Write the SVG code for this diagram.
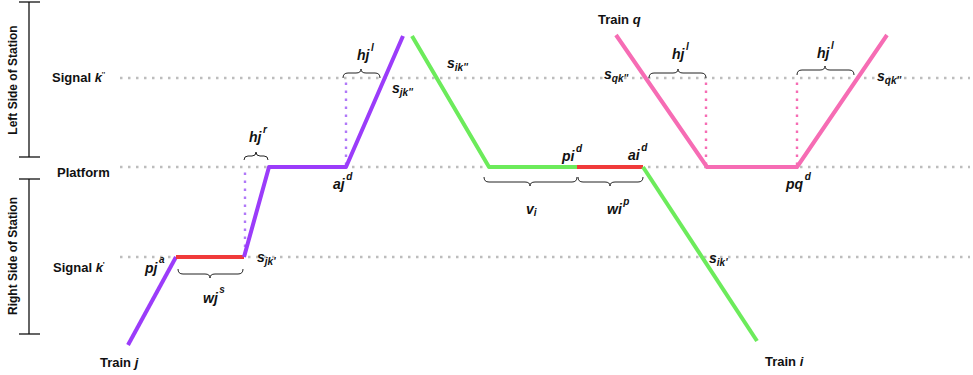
<svg xmlns="http://www.w3.org/2000/svg" width="973" height="375" viewBox="0 0 973 375">
<style>
text{font-family:"Liberation Sans",Arial,sans-serif;font-weight:bold;fill:#111}
.lb{font-size:13px}
.rl{font-size:12px}
.m{font-size:14px;font-style:italic}
.s{font-size:10px;font-style:italic}
.grid{stroke:#bdbdbd;stroke-width:2.5;stroke-dasharray:2.5 5.5;fill:none}
.tr{fill:none;stroke-width:4;stroke-linejoin:round}
.pu{stroke:#9b3cfa}
.gr{stroke:#6ceb5b}
.pk{stroke:#f66cb4}
.rd{stroke:#f03a3a}
.dv{stroke-width:2.4;stroke-dasharray:2.5 5.5;fill:none}
.br{fill:none;stroke:#222;stroke-width:1}
.ax{stroke:#111;stroke-width:1.3}
</style>
<rect width="973" height="375" fill="#fff"/>
<g id="gridlines">
<line class="grid" x1="120" y1="78" x2="970" y2="78"/>
<line class="grid" x1="120" y1="167" x2="970" y2="167"/>
<line class="grid" x1="120" y1="257" x2="970" y2="257"/>
</g>
<g id="axis">
<line class="ax" x1="29" y1="2" x2="29" y2="157"/>
<line class="ax" x1="19" y1="2" x2="40" y2="2"/>
<line class="ax" x1="19" y1="157" x2="40" y2="157"/>
<line class="ax" x1="29" y1="179" x2="29" y2="334"/>
<line class="ax" x1="19" y1="179" x2="40" y2="179"/>
<line class="ax" x1="19" y1="334" x2="40" y2="334"/>
<text class="rl" transform="translate(17 80) rotate(-90)" text-anchor="middle">Left Side of Station</text>
<text class="rl" transform="translate(17 256) rotate(-90)" text-anchor="middle">Right Side of Station</text>
<text class="lb" x="52" y="82">Signal <tspan font-style="italic">k</tspan><tspan font-size="7" dy="-5">''</tspan></text>
<text class="lb" x="57" y="177">Platform</text>
<text class="lb" x="53" y="272">Signal <tspan font-style="italic">k</tspan><tspan font-size="8" dy="-5">'</tspan></text>
</g>
<g id="connectors">
<line class="dv" stroke="#b078f8" x1="245" y1="255" x2="245" y2="168"/>
<line class="dv" stroke="#b078f8" x1="346" y1="165" x2="346" y2="79"/>
<line class="dv pk" x1="706" y1="165" x2="706" y2="79"/>
<line class="dv pk" x1="797" y1="165" x2="797" y2="79"/>
</g>
<g id="train-j">
<polyline class="tr pu" points="128,345 176,257"/>
<line class="tr rd" x1="176" y1="257" x2="244" y2="257"/>
<polyline class="tr pu" points="244,257 269,167 346,167 403,36"/>
<text class="lb" x="100" y="367">Train <tspan font-style="italic">j</tspan></text>
<text class="m" x="145" y="273">p<tspan>j</tspan><tspan class="s" dx="1.5" dy="-10">a</tspan></text>
<text class="m" x="203" y="303">w<tspan>j</tspan><tspan class="s" dx="1.5" dy="-10">s</tspan></text>
<text class="m" x="257" y="262">s<tspan class="s" dy="3">jk'</tspan></text>
<text class="m" x="249" y="142">h<tspan>j</tspan><tspan class="s" dx="1.5" dy="-9">r</tspan></text>
<text class="m" x="333" y="189">a<tspan>j</tspan><tspan class="s" dx="1.5" dy="-9">d</tspan></text>
<text class="m" x="357" y="60">h<tspan>j</tspan><tspan class="s" dx="1.5" dy="-9">l</tspan></text>
<text class="m" x="392" y="93">s<tspan class="s" dy="3">jk''</tspan></text>
<path class="br" d="M244,160 q0,-4 4,-4 h4 q4,0 4,-4 q0,4 4,4 h4 q4,0 4,4"/>
<path class="br" d="M343,78 q0,-5 5,-5 h8 q5,0 5,-4 q0,4 5,4 h9 q5,0 5,5"/>
<path class="br" d="M178,269 q0,5 5,5 h22 q5,0 5,4 q0,-4 5,-4 h23 q5,0 5,-5"/>
</g>
<g id="train-i">
<polyline class="tr gr" points="412,36 489,167 577,167"/>
<line class="tr rd" x1="577" y1="167" x2="643" y2="167"/>
<polyline class="tr gr" points="643,167 757,341"/>
<text class="lb" x="765" y="366">Train <tspan font-style="italic">i</tspan></text>
<text class="m" x="447" y="68">s<tspan class="s" dy="3">ik''</tspan></text>
<text class="m" x="562" y="161">p<tspan>i</tspan><tspan class="s" dx="1.5" dy="-9">d</tspan></text>
<text class="m" x="628" y="160">a<tspan>i</tspan><tspan class="s" dx="1.5" dy="-9">d</tspan></text>
<text class="m" x="526" y="214">v<tspan class="s" dy="2">i</tspan></text>
<text class="m" x="607" y="214">w<tspan>i</tspan><tspan class="s" dx="1.5" dy="-9">p</tspan></text>
<text class="m" x="709" y="263">s<tspan class="s" dy="3">ik'</tspan></text>
<path class="br" d="M484,177 q0,5 5,5 h36 q5,0 5,4 q0,-4 5,-4 h37 q5,0 5,-5"/>
<path class="br" d="M578,177 q0,5 5,5 h22 q5,0 5,4 q0,-4 5,-4 h23 q5,0 5,-5"/>
</g>
<g id="train-q">
<polyline class="tr pk" points="616,35 707,167 797,167 887,35"/>
<text class="lb" x="598" y="24">Train <tspan font-style="italic">q</tspan></text>
<text class="m" x="604" y="79">s<tspan class="s" dy="3">qk''</tspan></text>
<text class="m" x="877" y="81">s<tspan class="s" dy="3">qk''</tspan></text>
<text class="m" x="672" y="59">h<tspan>j</tspan><tspan class="s" dx="1.5" dy="-9">l</tspan></text>
<text class="m" x="817" y="58">h<tspan>j</tspan><tspan class="s" dx="1.5" dy="-9">l</tspan></text>
<text class="m" x="786" y="189">p<tspan>q</tspan><tspan class="s" dx="1.5" dy="-9">d</tspan></text>
<path class="br" d="M649,78 q0,-5 5,-5 h19 q5,0 5,-4 q0,4 5,4 h18 q5,0 5,5"/>
<path class="br" d="M797,75 q0,-5 5,-5 h18 q5,0 5,-4 q0,4 5,4 h19 q5,0 5,5"/>
</g>
</svg>
